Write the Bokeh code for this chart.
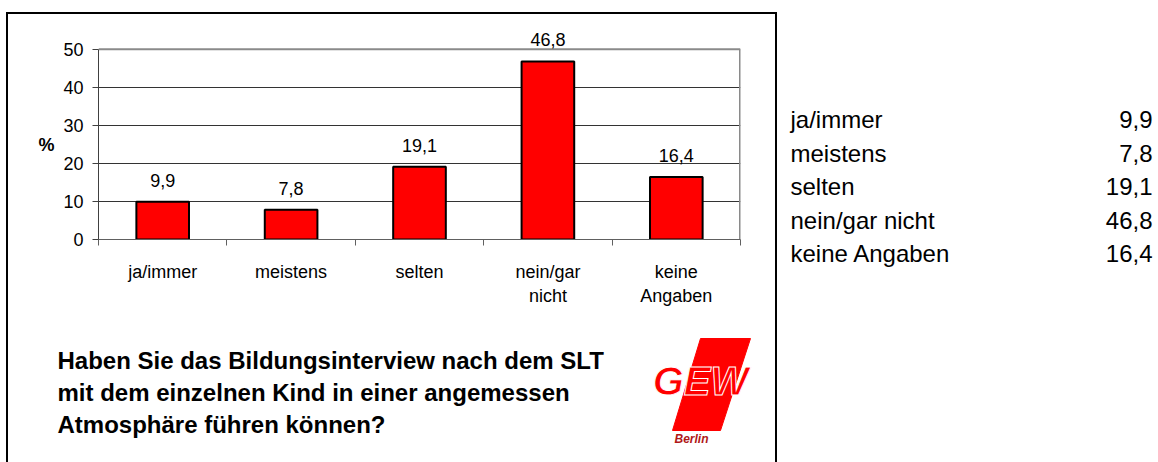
from bokeh.plotting import figure
from bokeh.layouts import row, column
from bokeh.models import ColumnDataSource, Range1d, FixedTicker, LabelSet
from bokeh.core.properties import value
from bokeh.embed import file_html
from bokeh.resources import INLINE

# ---------------- data ----------------
categories = ["ja/immer", "meistens", "selten", "nein/gar nicht", "keine Angaben"]
axis_labels = ["ja/immer", "meistens", "selten", "nein/gar\nnicht", "keine\nAngaben"]
values = [9.9, 7.8, 19.1, 46.8, 16.4]
y_ticks = [0, 10, 20, 30, 40, 50]
question = ["Haben Sie das Bildungsinterview nach dem SLT",
            "mit dem einzelnen Kind in einer angemessen",
            "Atmosphäre führen können?"]


def de(v):
    return f"{v:.1f}".replace(".", ",")


value_text = [de(v) for v in values]
xpos = [i + 0.5 for i in range(len(categories))]
n = len(categories)
ymax = y_ticks[-1]

FONT = "Liberation Sans"


def no_align(fig):
    try:
        fig.frame_align = False
    except Exception:
        pass


# ---------------- chart figure ----------------
CW, CH = 767, 310
chart = figure(width=CW, height=CH, title=None,
               x_range=Range1d(0, n), y_range=Range1d(0, 56),
               output_backend="svg", toolbar_location=None,
               min_border_left=90, min_border_right=35,
               min_border_top=12, min_border_bottom=85)
no_align(chart)
chart.background_fill_color = "white"
chart.border_fill_color = "white"
chart.outline_line_color = None

# plot-area border lines (top at 50, right edge)
chart.segment(x0=[0], y0=[ymax], x1=[n], y1=[ymax], line_color="#8a8a8a", line_width=2)
chart.segment(x0=[n], y0=[0], x1=[n], y1=[ymax], line_color="#8a8a8a", line_width=3)

src = ColumnDataSource(dict(x=xpos, top=values, label=value_text))
chart.vbar(x="x", top="top", width=0.41, bottom=0, source=src,
           fill_color="#ff0000", line_color="black", line_width=2)

chart.add_layout(LabelSet(x="x", y="top", text="label", source=src,
                          text_align="center", text_baseline="alphabetic",
                          y_offset=15, text_font=value(FONT),
                          text_font_size=value("18px"), text_color="black"))

chart.xgrid.visible = False
chart.ygrid.ticker = FixedTicker(ticks=y_ticks[1:-1])
chart.ygrid.grid_line_color = "#333333"
chart.ygrid.grid_line_width = 1

ya = chart.yaxis[0]
ya.ticker = FixedTicker(ticks=y_ticks)
ya.bounds = (0, ymax)
ya.axis_line_color = "#404040"
ya.major_tick_line_color = "#404040"
ya.major_tick_out = 6
ya.major_tick_in = 0
ya.minor_tick_out = 0
ya.minor_tick_in = 0
ya.major_label_standoff = 9
ya.major_label_text_font = FONT
ya.major_label_text_font_size = "18px"
ya.major_label_text_color = "black"
ya.axis_label = "\n%"
ya.axis_label_text_font = FONT
ya.axis_label_text_font_style = "bold"
ya.axis_label_text_font_size = "18px"
ya.axis_label_text_color = "black"
ya.axis_label_standoff = 6
try:
    ya.axis_label_orientation = "horizontal"
except Exception:
    pass

xa = chart.xaxis[0]
xa.ticker = FixedTicker(ticks=xpos, minor_ticks=list(range(n + 1)))
xa.major_label_overrides = {x: lab for x, lab in zip(xpos, axis_labels)}
xa.axis_line_color = "#606060"
xa.major_tick_out = 0
xa.major_tick_in = 0
xa.minor_tick_out = 6
xa.minor_tick_in = 0
xa.minor_tick_line_color = "#606060"
xa.major_label_standoff = 16
xa.major_label_text_font = FONT
xa.major_label_text_font_size = "18px"
xa.major_label_text_color = "black"
xa.major_label_text_line_height = 1.2

# ---------------- question + logo figure ----------------
BW, BH = 767, 138
bottom = figure(width=BW, height=BH, title=None,
                x_range=Range1d(0, BW), y_range=Range1d(BH, 0),
                output_backend="svg", toolbar_location=None, min_border=0)
no_align(bottom)
bottom.axis.visible = False
bottom.grid.visible = False
bottom.outline_line_color = None
bottom.background_fill_color = "white"
bottom.border_fill_color = "white"

bottom.text(x=[49] * len(question), y=[36 + 32 * i for i in range(len(question))],
            text=question, text_font=value(FONT), text_font_style="bold",
            text_font_size="24px", text_baseline="middle", text_color="black")

# GEW logo
bottom.patch(x=[692, 742, 712, 664], y=[14, 14, 106, 106],
             fill_color="#ff0000", line_color="#ff0000")
bottom.text(x=[692], y=[56], text=["GEW"], text_font=value(FONT),
            text_font_style="bold italic", text_font_size="40px",
            text_align="center", text_baseline="middle", text_color="#ff0000",
            text_outline_color="white")
bottom.text(x=[683], y=[114], text=["Berlin"], text_font=value(FONT),
            text_font_style="bold italic", text_font_size="12px",
            text_align="center", text_baseline="middle", text_color="#b01818")

left = column(chart, bottom, margin=(12, 0, 0, 6),
              styles={"border-top": "2px solid black",
                      "border-left": "2px solid black",
                      "border-right": "2px solid black"})

# ---------------- right-hand table ----------------
TW, TH = 381, 462
table = figure(width=TW, height=TH, title=None,
               x_range=Range1d(0, TW), y_range=Range1d(TH, 0),
               output_backend="svg", toolbar_location=None, min_border=0)
no_align(table)
table.axis.visible = False
table.grid.visible = False
table.outline_line_color = None
table.background_fill_color = "white"
table.border_fill_color = "white"

rows_y = [119 + 33.6 * i for i in range(n)]
table.text(x=[13] * n, y=rows_y, text=categories, text_font=value(FONT),
           text_font_size="24px", text_baseline="middle", text_color="black")
table.text(x=[375] * n, y=rows_y, text=value_text, text_font=value(FONT),
           text_font_size="24px", text_align="right", text_baseline="middle",
           text_color="black")

page = row(left, table)
open("out.html", "w").write(file_html(page, INLINE))
